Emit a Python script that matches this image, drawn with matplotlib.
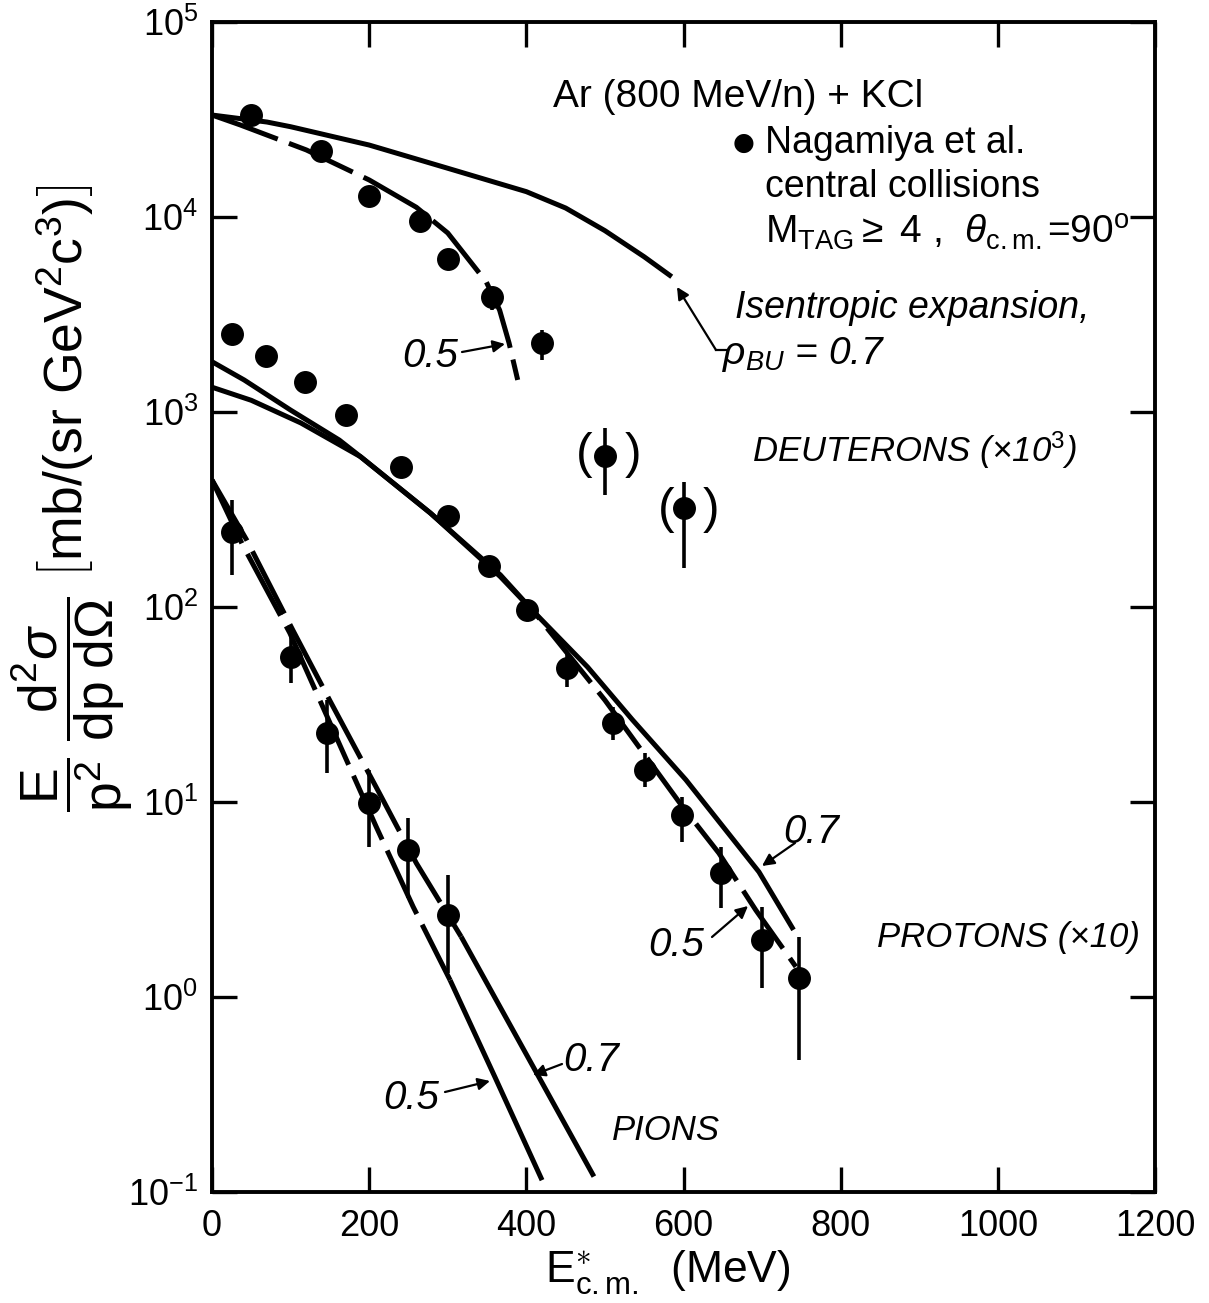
import matplotlib
matplotlib.use("Agg")
import matplotlib.pyplot as plt
import numpy as np

nan = np.nan

# ---------------- data ----------------
# Deuterons (x10^3)
deut_x = [50, 139, 200, 265, 300, 356, 420, 500, 600]
deut_y = [3.33e4, 2.19e4, 1.28e4, 9.5e3, 6.07e3, 3.87e3, 2.26e3, 594, 322]
deut_lo = [nan, nan, nan, nan, nan, 3330, 1850, 375, 158]
deut_hi = [nan, nan, nan, nan, nan, 4370, 2640, 828, 439]

# Protons (x10)
prot_x = [25, 69, 118, 170, 241, 300, 352, 401, 452, 510, 551, 598, 648, 700, 747]
prot_y = [2510, 1945, 1426, 966, 525, 293, 162, 96.6, 48.6, 25.4, 14.6, 8.6, 4.3, 1.96, 1.25]
prot_lo = [nan] * 8 + [38.9, 20.8, 11.9, 6.2, 2.86, 1.11, 0.475]
prot_hi = [nan] * 8 + [58.0, 30.7, 17.8, 10.6, 5.9, 2.9, 2.03]

# Pions
pion_x = [26, 100, 146, 200, 249, 300]
pion_y = [243, 55.6, 22.6, 9.9, 5.7, 2.63]
pion_lo = [146, 40.7, 14.1, 5.9, 3.2, 1.33]
pion_hi = [354, 73.6, 33.3, 14.6, 8.3, 4.2]

# Isentropic expansion curves (rho_BU = 0.7 and 0.5)
deut07_x = [0, 70, 100, 200, 300, 400, 450, 500, 550, 585]
deut07_y = [33340, 30690, 29040, 23390, 17780, 13490, 11120, 8510, 6250, 4940]
deut05_x = [0, 36, 120, 200, 260, 300, 349, 366, 378, 389]
deut05_y = [33340, 29650, 22080, 15490, 11220, 8280, 4650, 3330, 2260, 1460]

prot07_x = [0, 50, 113, 189, 278, 367, 411, 478, 535, 603, 696, 740]
prot07_y = [1340, 1148, 879, 590, 303, 146, 93.1, 49.2, 26.4, 13.0, 4.38, 2.21]
prot05_x = [0, 41, 100, 162, 189, 278, 367, 411, 500, 598, 645, 692, 743]
prot05_y = [1811, 1459, 1023, 718, 590, 303, 143, 93.1, 33.3, 9.55, 5.47, 2.79, 1.43]

pion07_x = [0, 44, 103, 150, 213, 260, 317, 400, 486]
pion07_y = [448, 221, 75.9, 33.1, 11.1, 4.86, 2.04, 0.508, 0.120]
pion05_x = [0, 39, 99, 150, 209, 256, 303, 360, 420]
pion05_y = [448, 208, 73.6, 25.5, 7.46, 2.90, 1.22, 0.389, 0.115]

x_ticks = [0, 200, 400, 600, 800, 1000, 1200]
y_ticks = [1e-1, 1e0, 1e1, 1e2, 1e3, 1e4, 1e5]
y_ticklabels = [r"$10^{-1}$", r"$10^{0}$", r"$10^{1}$", r"$10^{2}$", r"$10^{3}$", r"$10^{4}$", r"$10^{5}$"]

# ---------------- figure ----------------
W, H = 1209, 1303
plt.rcParams["font.family"] = ["Liberation Sans", "DejaVu Sans"]
plt.rcParams["mathtext.fontset"] = "custom"
plt.rcParams["mathtext.rm"] = "Liberation Sans"
plt.rcParams["mathtext.it"] = "Liberation Sans:italic"
plt.rcParams["mathtext.bf"] = "Liberation Sans:bold"
plt.rcParams["mathtext.sf"] = "Liberation Sans"
fig = plt.figure(figsize=(W / 100, H / 100), dpi=100)
ax = fig.add_axes([212 / W, 1 - 1192 / H, (1155 - 212) / W, (1192 - 22) / H])

LW = 3.6
dash = (0, (14, 2.4))


def solid(x, y):
    ax.plot(x, y, color="black", lw=LW, solid_capstyle="butt", solid_joinstyle="round")


def dashed(x, y):
    ax.plot(x, y, color="black", lw=LW, linestyle=dash, dash_capstyle="butt")


# deuterons
solid(deut07_x, deut07_y)
dashed(deut05_x, deut05_y)
# protons: 0.5 curve solid at low energy, dashed above ~280 MeV
solid(prot07_x, prot07_y)
solid(prot05_x[:6], prot05_y[:6])
dashed(prot05_x[5:], prot05_y[5:])
# pions: dashed at low energy, solid above ~300 MeV
dashed(pion07_x[:7], pion07_y[:7])
solid(pion07_x[6:], pion07_y[6:])
dashed(pion05_x[:7], pion05_y[:7])
solid(pion05_x[6:], pion05_y[6:])


def draw_points(xs, ys, lo, hi):
    xs = np.array(xs, float)
    ys = np.array(ys, float)
    lo = np.array(lo, float)
    hi = np.array(hi, float)
    m = ~np.isnan(lo)
    ax.vlines(xs[m], lo[m], hi[m], color="black", lw=2.6)
    ax.plot(xs, ys, "o", color="black", markersize=15.5, zorder=5)


draw_points(deut_x, deut_y, deut_lo, deut_hi)
draw_points(prot_x, prot_y, prot_lo, prot_hi)
draw_points(pion_x, pion_y, pion_lo, pion_hi)

ax.set_yscale("log")
ax.set_xlim(0, 1200)
ax.set_ylim(1e-1, 1e5)
ax.set_xticks(x_ticks)
ax.set_xticklabels([str(v) for v in x_ticks])
ax.set_yticks(y_ticks)
ax.set_yticklabels(y_ticklabels)
ax.yaxis.set_minor_locator(matplotlib.ticker.NullLocator())
ax.tick_params(axis="both", which="major", direction="in", length=18, width=2.4,
               labelsize=26, top=True, right=True)
ax.tick_params(axis="x", pad=12)
ax.tick_params(axis="y", pad=10)
for s in ax.spines.values():
    s.set_linewidth(2.8)

# ---------------- labels ----------------
fig.text(668 / W, 1 - 1272 / H, r"$\mathrm{E}^{\ast}_{\mathrm{c.m.}}$  (MeV)", ha="center", va="center",
         fontsize=32)
fig.text(72 / W, 1 - 498 / H,
         r"$\dfrac{\mathrm{E}}{\mathrm{p}^2}\;\dfrac{\mathrm{d}^2\sigma}{\mathrm{dp\;d}\Omega}\;"
         r"\left[\mathrm{mb/(sr\ GeV^2c^3)}\right]$",
         rotation=90, ha="center", va="center", fontsize=38.5)


def F(px, py):
    return (px / W, 1 - py / H)


fig.text(*F(553, 97), "Ar (800 MeV/n) + KCl", fontsize=28, ha="left", va="center")
fig.text(*F(733, 143), "\u25cf", fontsize=18, ha="left", va="center", family="DejaVu Sans")
fig.text(*F(765, 143), "Nagamiya et al.", fontsize=27, ha="left", va="center")
fig.text(*F(765, 187), "central collisions", fontsize=27, ha="left", va="center")
fig.text(*F(765, 232), r"M$_{\mathrm{TAG}}$$\geq$ 4 ,  $\theta_{\mathrm{c.m.}}$=90$^{\mathrm{o}}$",
         fontsize=28, ha="left", va="center")
fig.text(*F(735, 308), "Isentropic expansion,", fontsize=27, style="italic", ha="left", va="center")
fig.text(*F(722, 355), r"$\rho_{BU}$ = 0.7", fontsize=28, style="italic", ha="left", va="center")
fig.text(*F(752, 450), r"DEUTERONS (×10$^{3}$)", fontsize=25, style="italic", ha="left", va="center")
fig.text(*F(877, 937), "PROTONS (×10)", fontsize=25, style="italic", ha="left", va="center")
fig.text(*F(612, 1130), "PIONS", fontsize=25, style="italic", ha="left", va="center")

fig.text(*F(576, 455), "(", fontsize=36, ha="left", va="center")
fig.text(*F(625, 455), ")", fontsize=36, ha="left", va="center")
fig.text(*F(658, 510), "(", fontsize=36, ha="left", va="center")
fig.text(*F(703, 510), ")", fontsize=36, ha="left", va="center")

aprops = dict(arrowstyle="-|>", color="black", lw=1.6, mutation_scale=18, shrinkA=0, shrinkB=0)

# rho_BU arrow with elbow
ax.annotate("", xy=F(677, 287), xycoords="figure fraction",
            xytext=F(716, 350), textcoords="figure fraction", arrowprops=aprops)
fig.add_artist(plt.Line2D([716 / W, 726 / W], [1 - 350 / H, 1 - 350 / H], color="black", lw=1.6))

fig.text(*F(402, 356), "0.5", fontsize=29, style="italic", ha="left", va="center")
ax.annotate("", xy=F(505, 344), xycoords="figure fraction",
            xytext=F(462, 352), textcoords="figure fraction", arrowprops=aprops)

fig.text(*F(783, 832), "0.7", fontsize=29, style="italic", ha="left", va="center")
ax.annotate("", xy=F(762, 866), xycoords="figure fraction",
            xytext=F(795, 843), textcoords="figure fraction", arrowprops=aprops)

fig.text(*F(648, 945), "0.5", fontsize=29, style="italic", ha="left", va="center")
ax.annotate("", xy=F(748, 906), xycoords="figure fraction",
            xytext=F(712, 937), textcoords="figure fraction", arrowprops=aprops)

fig.text(*F(563, 1060), "0.7", fontsize=29, style="italic", ha="left", va="center")
ax.annotate("", xy=F(533, 1075), xycoords="figure fraction",
            xytext=F(562, 1064), textcoords="figure fraction", arrowprops=aprops)

fig.text(*F(383, 1098), "0.5", fontsize=29, style="italic", ha="left", va="center")
ax.annotate("", xy=F(490, 1081), xycoords="figure fraction",
            xytext=F(445, 1092), textcoords="figure fraction", arrowprops=aprops)

fig.savefig("out.png", dpi=100, facecolor="white")
